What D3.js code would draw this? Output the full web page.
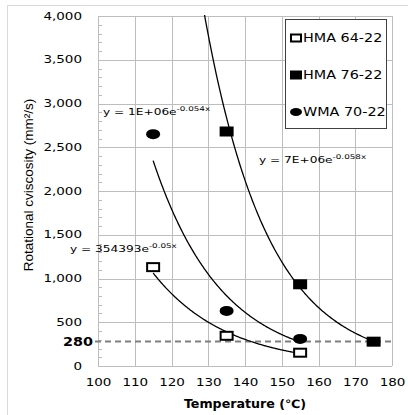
<!DOCTYPE html>
<html><head><meta charset="utf-8">
<script src="https://cdn.jsdelivr.net/npm/d3@7/dist/d3.min.js"></script>
<style>
html,body{margin:0;padding:0;background:#fff;}
svg{display:block;}
</style></head>
<body>
<svg id="chart" width="408" height="415"></svg>
<script>
// ---- data ----
const temperatures = [115, 135, 155, 175];
const seriesNames = ["HMA 64-22", "HMA 76-22", "WMA 70-22"];
const hma6422 = [1130, 345, 152, null];
const hma7622 = [9200, 2680, 934, 278];   // value at 115 lies above the 4,000 axis limit (inferred from trendline)
const wma7022 = [2650, 630, 310, null];
const yTicks = [0, 500, 1000, 1500, 2000, 2500, 3000, 3500, 4000];
const xTicks = [100, 110, 120, 130, 140, 150, 160, 170, 180];
const limitValue = 280;
const eqMain = ["y = 354393e", "y = 7E+06e", "y = 1E+06e"];
const eqExp = ["-0.05x", "-0.058x", "-0.054x"];

const SX = 1.35; // horizontal stretch of the original picture's text
const svg = d3.select("#chart");
const W = 408, H = 415;
const plot = {left: 98, right: 392, top: 16, bottom: 366};
const x = d3.scaleLinear().domain([100, 180]).range([plot.left, plot.right]);
const y = d3.scaleLinear().domain([0, 4000]).range([plot.bottom, plot.top]);

// outer chart frame
svg.append("line").attr("x1", 7.5).attr("x2", 7.5).attr("y1", 5.5).attr("y2", H).attr("stroke", "#d9d9d9");
svg.append("line").attr("x1", 7.5).attr("x2", W).attr("y1", 5.5).attr("y2", 5.5).attr("stroke", "#d9d9d9");

svg.append("defs").append("clipPath").attr("id", "clip")
  .append("rect").attr("x", plot.left).attr("y", plot.top - 1)
  .attr("width", plot.right - plot.left).attr("height", plot.bottom - plot.top + 1);

// gridlines
const grid = svg.append("g");
grid.selectAll("line.h").data(yTicks).join("line")
  .attr("x1", plot.left).attr("x2", plot.right)
  .attr("y1", d => Math.round(y(d)) + 0.5).attr("y2", d => Math.round(y(d)) + 0.5)
  .attr("stroke", "#bdbdbd").attr("stroke-width", 1);
grid.selectAll("line.v").data(xTicks).join("line")
  .attr("y1", plot.top).attr("y2", plot.bottom)
  .attr("x1", d => Math.round(x(d)) + 0.5).attr("x2", d => Math.round(x(d)) + 0.5)
  .attr("stroke", "#bdbdbd").attr("stroke-width", 1);
// minor ticks on y axis
const minor = d3.range(100, 4000, 100).filter(v => v % 500 !== 0);
grid.selectAll("line.m").data(minor).join("line")
  .attr("x1", plot.left).attr("x2", plot.left + 4)
  .attr("y1", d => Math.round(y(d)) + 0.5).attr("y2", d => Math.round(y(d)) + 0.5)
  .attr("stroke", "#bdbdbd");

// axes (labels)
const yAxis = svg.append("g").attr("transform", `translate(${plot.left},0)`)
  .call(d3.axisLeft(y).tickValues(yTicks).tickFormat(d3.format(",")).tickSize(0).tickPadding(0));
yAxis.select(".domain").remove();
yAxis.selectAll("text")
  .attr("x", -16 / SX).attr("transform", `scale(${SX},1)`)
  .style("font-family", "DejaVu Sans").style("font-size", "10px").attr("fill", "#000");

const xAxis = svg.append("g").attr("transform", `translate(0,${plot.bottom})`)
  .call(d3.axisBottom(x).tickValues(xTicks).tickFormat(d3.format("d")).tickSize(0).tickPadding(13));
xAxis.select(".domain").remove();
xAxis.selectAll(".tick text").each(function() {
  const t = d3.select(this);
  const parent = d3.select(this.parentNode);
  t.attr("transform", `scale(${SX},1)`);
}).style("font-family", "DejaVu Sans").style("font-size", "10px").attr("fill", "#000");

// 280 limit line
svg.append("line")
  .attr("x1", plot.left - 3).attr("x2", plot.right)
  .attr("y1", y(limitValue)).attr("y2", y(limitValue))
  .attr("stroke", "#7f7f7f").attr("stroke-width", 2).attr("stroke-dasharray", "6,4");
svg.append("g").attr("transform", `translate(93,${y(limitValue) + 4.5}) scale(1.15,1)`)
  .append("text").attr("text-anchor", "end")
  .style("font-family", "DejaVu Sans").style("font-weight", "bold").style("font-size", "12.5px")
  .text(String(limitValue));

// exponential regression
const allSeries = [hma6422, hma7622, wma7022];
function expFit(vals) {
  const pts = temperatures.map((t, i) => [t, vals[i]]).filter(p => p[1] != null);
  const n = pts.length;
  const mx = d3.mean(pts, p => p[0]);
  const my = d3.mean(pts, p => Math.log(p[1]));
  const b = d3.sum(pts, p => (p[0] - mx) * (Math.log(p[1]) - my)) / d3.sum(pts, p => (p[0] - mx) ** 2);
  const lnA = my - b * mx;
  return {a: Math.exp(lnA), b, x0: d3.min(pts, p => p[0]), x1: d3.max(pts, p => p[0])};
}
const trend = svg.append("g").attr("clip-path", "url(#clip)");
const line = d3.line().x(d => x(d[0])).y(d => y(d[1]));
allSeries.forEach(vals => {
  const f = expFit(vals);
  const pts = d3.range(0, 201).map(i => {
    const t = f.x0 + (f.x1 - f.x0) * i / 200;
    return [t, Math.min(f.a * Math.exp(f.b * t), 4500)];
  });
  trend.append("path").attr("d", line(pts)).attr("fill", "none")
    .attr("stroke", "#000").attr("stroke-width", 1.3);
});

// markers
const marks = svg.append("g").attr("clip-path", "url(#clip)");
function drawMarker(g, kind, cx, cy, sz) {
  if (kind === 0) {
    g.append("rect").attr("x", cx - sz.w / 2 + 1).attr("y", cy - sz.h / 2 + 1)
      .attr("width", sz.w - 2).attr("height", sz.h - 2)
      .attr("fill", "#fff").attr("stroke", "#000").attr("stroke-width", 2);
  } else if (kind === 1) {
    g.append("rect").attr("x", cx - sz.w / 2).attr("y", cy - sz.h / 2)
      .attr("width", sz.w).attr("height", sz.h).attr("fill", "#000");
  } else {
    g.append("ellipse").attr("cx", cx).attr("cy", cy)
      .attr("rx", sz.w / 2).attr("ry", sz.h / 2).attr("fill", "#000");
  }
}
allSeries.forEach((vals, k) => {
  temperatures.forEach((t, i) => {
    if (vals[i] == null || vals[i] > 4000) return;
    drawMarker(marks, k, x(t), y(vals[i]), {w: 14, h: 10});
  });
});

// trendline equations
const eqPos = [[70, 251.5], [259, 162.5], [103, 114.5]];
eqMain.forEach((m, i) => {
  const t = svg.append("g").attr("transform", `translate(${eqPos[i][0]},${eqPos[i][1]}) scale(${SX},1)`)
    .append("text").style("font-family", "DejaVu Sans").style("font-size", "9px").attr("fill", "#000");
  t.append("tspan").text(m);
  t.append("tspan").attr("dy", -4).style("font-size", "6.5px").text(eqExp[i]);
});

// legend
const lg = svg.append("g");
lg.append("rect").attr("x", 285.5).attr("y", 19.5).attr("width", 101).attr("height", 109)
  .attr("fill", "#fff").attr("stroke", "#404040").attr("stroke-width", 1);
const rowsY = [38, 75, 112];
seriesNames.forEach((name, i) => {
  drawMarker(lg, i, 296, rowsY[i], {w: 12, h: i === 2 ? 8 : 9});
  lg.append("g").attr("transform", `translate(303,${rowsY[i] + 4.3}) scale(1.25,1)`)
    .append("text").style("font-family", "DejaVu Sans").style("font-size", "11.5px").text(name);
});

// axis titles
svg.append("g").attr("transform", `translate(${(plot.left + plot.right) / 2},408) scale(1.1,1)`)
  .append("text").attr("text-anchor", "middle")
  .style("font-family", "DejaVu Sans").style("font-weight", "bold").style("font-size", "11.5px")
  .text("Temperature (℃)");
svg.append("text")
  .attr("transform", "translate(33,185) rotate(-90)")
  .attr("text-anchor", "middle")
  .style("font-family", "'Liberation Sans Narrow', 'Arial Narrow', 'Liberation Sans'")
  .style("font-size", "13.5px").attr("fill", "#000")
  .text("Rotational cviscosity (mm²/s)");
</script>
</body></html>
